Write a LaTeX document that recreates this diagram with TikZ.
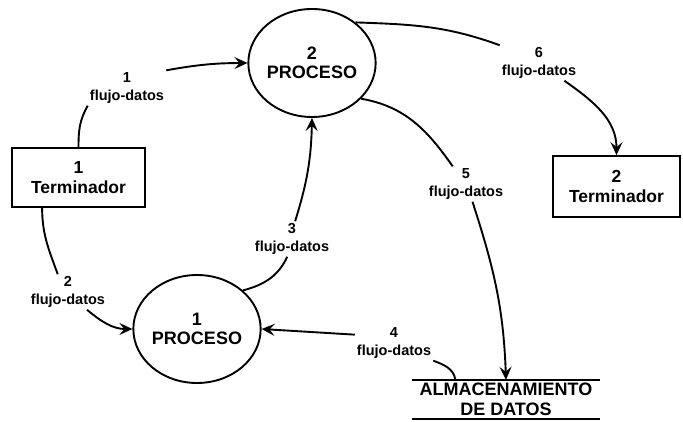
\documentclass[tikz,border=0pt]{standalone}
\usepackage{fontspec}
\setmainfont{Liberation Sans}
\usetikzlibrary{shapes.geometric,arrows.meta,calc}
\begin{document}
\begin{tikzpicture}[x=1pt,y=1pt,
  term/.style={draw, line width=1.7pt, minimum width=133pt, minimum height=59pt, inner sep=0pt, align=center, font=\bfseries\fontsize{17.5}{20}\selectfont},
  proc/.style={ellipse, draw, line width=1.9pt, minimum width=120pt, minimum height=108pt, inner sep=0pt, align=center, font=\bfseries\fontsize{18}{19}\selectfont},
  storebox/.style={minimum width=187pt, minimum height=39pt, inner sep=0pt, align=center, font=\bfseries\fontsize{18}{20}\selectfont},
  flow/.style={align=center, inner sep=2pt, font=\bfseries\fontsize{14.5}{18}\selectfont},
  conn/.style={line width=1.9pt},
  arr/.style={conn, -{Stealth[length=13pt,width=12pt,inset=5pt]}}
]
\useasboundingbox (0,0) rectangle (683,-422);

% nodes
\node[term] (t1) at (78.5,-177.5) {1\\Terminador};
\node[term, minimum width=127pt, minimum height=61pt] (t2) at (616.5,-186.5) {2\\Terminador};
\node[proc] (p2) at (312,-63) {2\\PROCESO};
\node[proc, minimum width=121pt] (p1) at (197,-329) {1\\PROCESO};
\node[storebox] (st) at (506,-399.5) {ALMACENAMIENTO\\DE DATOS};
\draw[conn] (st.north west) -- (st.north east);
\draw[conn] (st.south west) -- (st.south east);

% labels
\node[flow] (l1) at (127,-88) {1\\flujo-datos};
\node[flow] (l2) at (68,-292) {2\\flujo-datos};
\node[flow] (l3) at (292,-239) {3\\flujo-datos};
\node[flow] (l4) at (394,-343) {4\\flujo-datos};
\node[flow] (l5) at (466,-184) {5\\flujo-datos};
\node[flow] (l6) at (539,-63) {6\\flujo-datos};

% flow 1
\draw[conn] (t1.north) to[out=90,in=240] (l1.south west);
\draw[arr] (l1.north east) to[bend left=5] (p2.west);
% flow 2
\draw[conn] ($(t1.south west)!0.23!(t1.south east)$) to[out=-90,in=110] (l2.120);
\draw[arr] (l2.-43) to[out=-40,in=180] (p1.west);
% flow 3
\draw[conn] (p1.40) to[out=15,in=-115] (l3.-105);
\draw[arr] (l3.80) to[bend right=8] (p2.south);
% flow 4
\draw[conn] ($(st.north west)!0.23!(st.north east)$) to[out=100,in=-20] (l4.south east);
\draw[arr] (l4.168) -- (p1.east);
% flow 5
\draw[conn] (p2.-36) to[out=-10,in=125] (l5.127);
\draw[arr] (l5.-70) to[out=-72,in=92] (st.north);
% flow 6
\draw[conn] (p2.43) to[out=-2,in=160] (l6.north west);
\draw[arr] (l6.-35) to[out=-35,in=90] (t2.north);
\end{tikzpicture}
\end{document}
